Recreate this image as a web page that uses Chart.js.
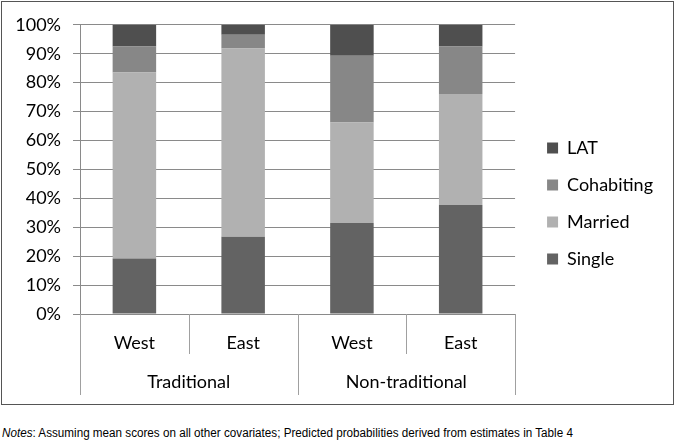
<!DOCTYPE html>
<html>
<head>
<meta charset="utf-8">
<script src="https://cdn.jsdelivr.net/npm/chart.js@4"></script>
<style>
    body { margin: 0; background: #fff; }
    #box { position: absolute; left: 1px; top: 1px; width: 671px; height: 402px; border: 1px solid #555; }
    #notes { position: absolute; left: 2px; top: 426px; font: 12px "Liberation Sans", Arial, sans-serif; color: #000;
             white-space: nowrap; transform: scaleX(0.973); transform-origin: left top; }
</style>
</head>
<body>
<div id="box"><canvas id="chart" width="671" height="402"></canvas></div>
<div id="notes"><i>Notes</i>: Assuming mean scores on all other covariates; Predicted probabilities derived from estimates in Table 4</div>
<script>
// подписи и значения
const regions = ['West', 'East', 'West', 'East'];
const groups = ['Traditional', 'Non-traditional'];
const single = [19.2, 26.7, 31.5, 37.7];
const married = [64.3, 65.1, 34.7, 38.4];
const cohabiting = [9.0, 4.8, 23.1, 16.4];
const lat = [7.5, 3.4, 10.7, 7.5];

const FONT = 'Lato';
const gridColor = '#8a8a8a';

// разделители категорий под осью
const separators = {
    id: 'separators',
    afterDraw(chart) {
        const x = chart.scales.x;
        const x2 = chart.scales.x2;
        const ctx = chart.ctx;
        const n = regions.length;
        const w = (x.right - x.left) / n;
        ctx.save();
        ctx.strokeStyle = '#a0a0a0';
        ctx.lineWidth = 1;
        for (let i = 0; i <= n; i++) {
            const px = Math.round(x.left + i * w) + 0.5;
            const bottom = i % 2 === 0 ? x2.bottom : x.bottom;
            ctx.beginPath();
            ctx.moveTo(px, x.top);
            ctx.lineTo(px, bottom);
            ctx.stroke();
        }
        ctx.restore();
    },
    afterLayout(chart) {
        chart.legend.left += 13;
        chart.legend.right += 13;
        chart.legend.top -= 6;
        chart.legend.bottom -= 6;
    }
};

const config = {
    type: 'bar',
    data: {
        labels: regions,
        datasets: [
            { label: 'Single', data: single, backgroundColor: '#636363' },
            { label: 'Married', data: married, backgroundColor: '#b1b1b1' },
            { label: 'Cohabiting', data: cohabiting, backgroundColor: '#878787' },
            { label: 'LAT', data: lat, backgroundColor: '#4f4f4f' }
        ]
    },
    options: {
        responsive: false,
        animation: false,
        layout: { padding: { top: 22, right: 23, bottom: 9, left: 0 } },
        datasets: { bar: { categoryPercentage: 1, barPercentage: 0.4 } },
        plugins: {
            tooltip: { enabled: false },
            legend: {
                position: 'right',
                reverse: true,
                labels: {
                    boxWidth: 11,
                    boxHeight: 11,
                    padding: 19,
                    color: '#000',
                    font: { family: FONT, size: 18 }
                }
            }
        },
        scales: {
            x: {
                stacked: true,
                grid: { display: false, drawTicks: false },
                border: { display: false },
                ticks: { color: '#000', padding: 18, font: { family: FONT, size: 18 } },
                afterFit(scale) { scale.height = 40; }
            },
            x2: {
                type: 'category',
                labels: groups,
                position: 'bottom',
                grid: { display: false, drawTicks: false },
                border: { display: false },
                ticks: { color: '#000', padding: 17, font: { family: FONT, size: 18 } },
                afterFit(scale) { scale.height = 41; }
            },
            y: {
                stacked: true,
                min: 0,
                max: 100,
                ticks: {
                    stepSize: 10,
                    padding: 12,
                    color: '#000',
                    font: { family: FONT, size: 18 },
                    callback: (v) => v + '%'
                },
                grid: { color: gridColor, tickLength: 7 },
                border: { color: gridColor },
                afterFit(scale) { scale.width = 78; }
            }
        }
    },
    plugins: [separators]
};

new Chart(document.getElementById('chart'), config);
</script>
</body>
</html>
